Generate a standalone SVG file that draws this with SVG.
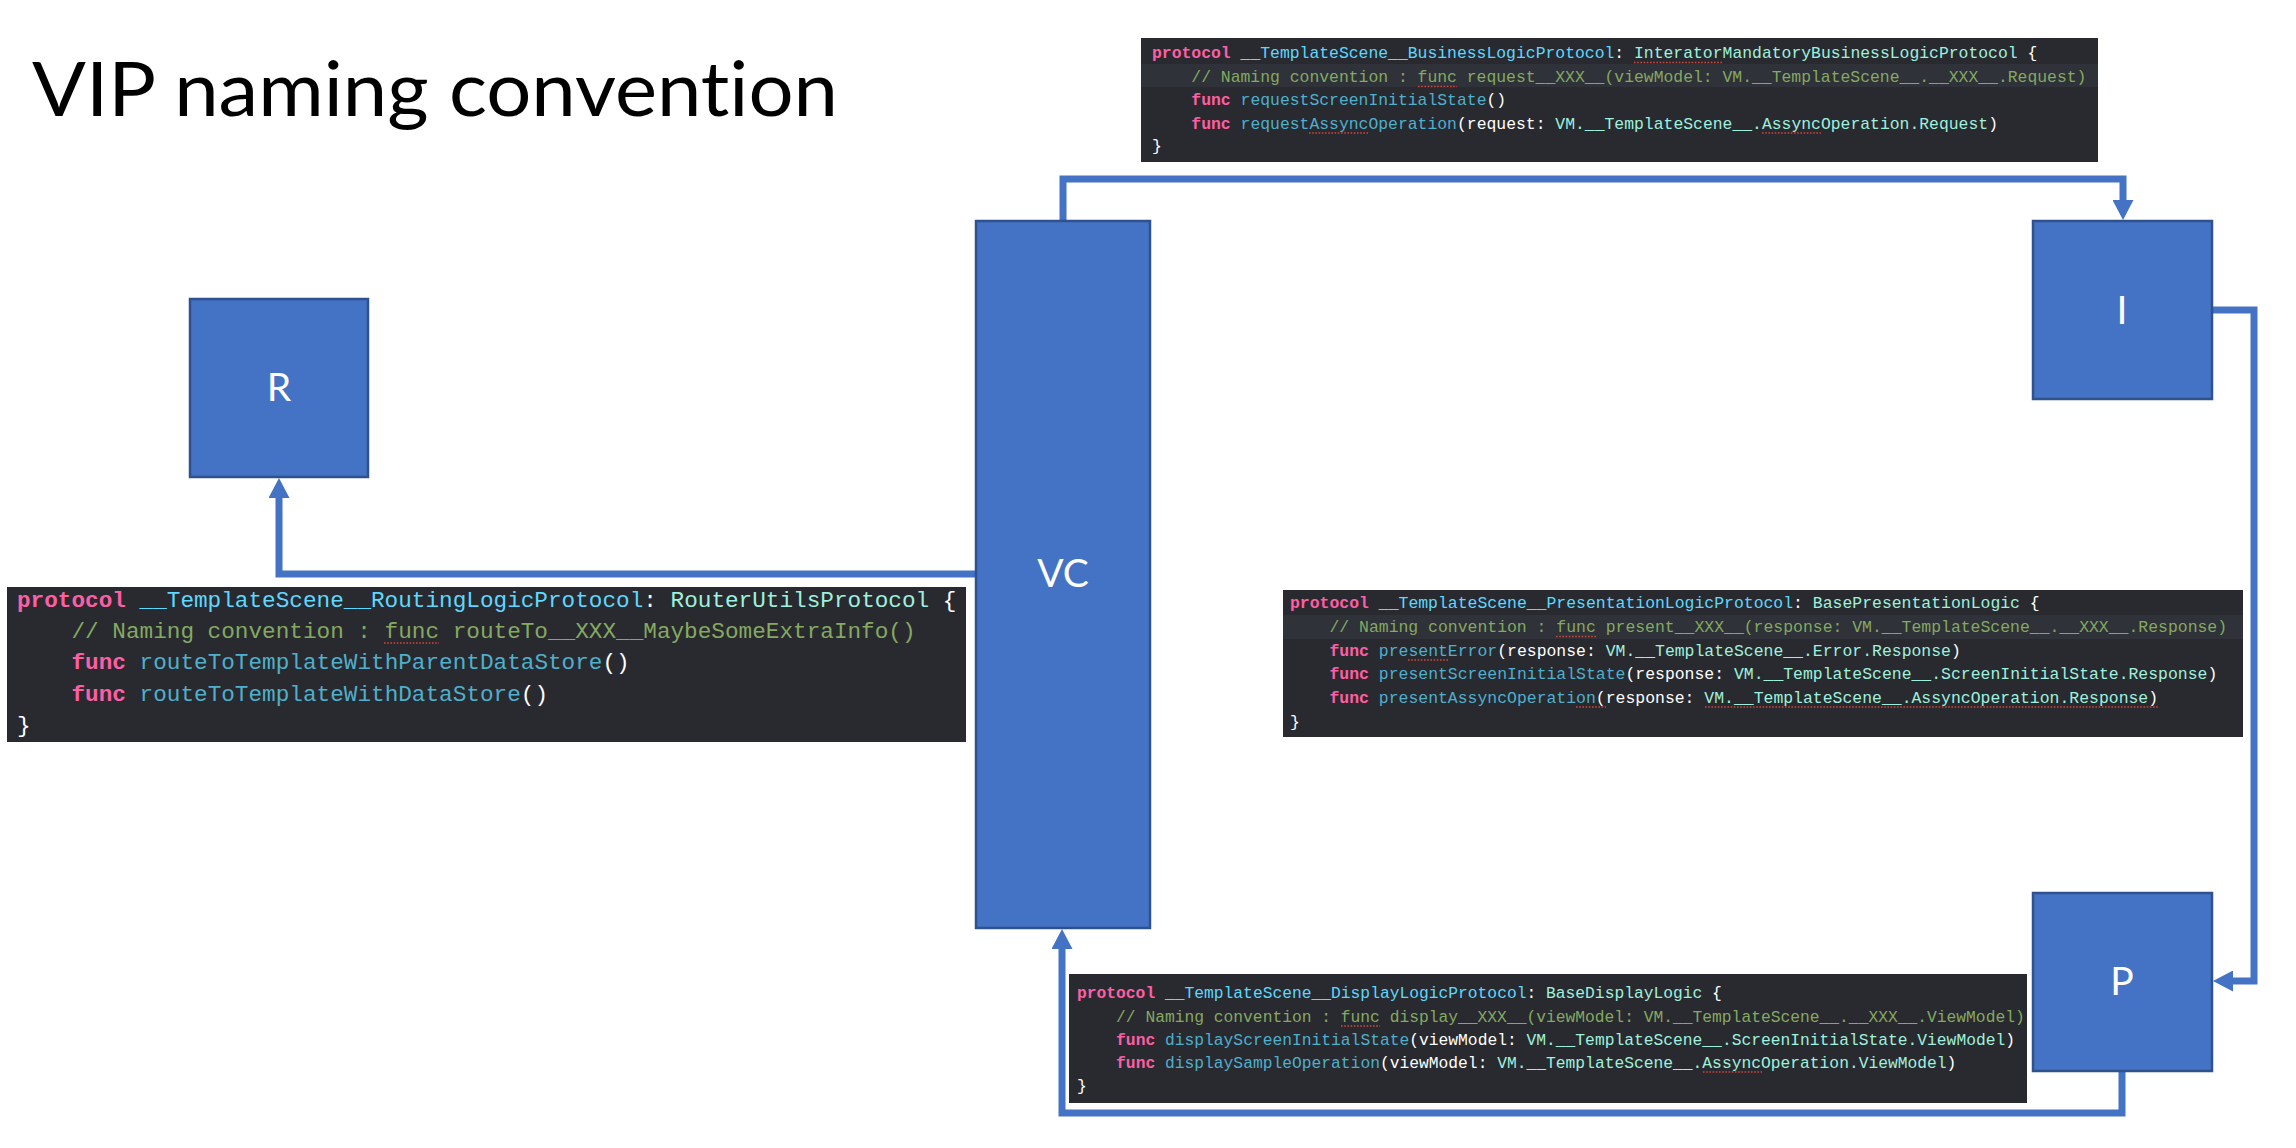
<svg xmlns="http://www.w3.org/2000/svg" width="2296" height="1148" viewBox="0 0 2296 1148">
  <style>
    .title { font-family: Lato, "Open Sans", "Liberation Sans", sans-serif; font-size: 76px; fill: #000; font-variant-ligatures: none; }
    .node rect { fill: #4472c4; stroke: #2f528f; stroke-width: 2.5; }
    .node text { font-family: Lato, "Open Sans", "Liberation Sans", sans-serif; font-size: 39px; fill: #fff; text-anchor: middle; }
    .wire { fill: none; stroke: #4472c4; stroke-width: 7; stroke-linejoin: miter; }
    .code rect.bg { fill: #292a30; }
    .code rect.hl { fill: #2f3239; }
    .code text { font-family: "Liberation Mono", "DejaVu Sans Mono", monospace; fill: #ffffff; white-space: pre; }
    .code .kw { fill: #fc5fa3; font-weight: bold; }
    .code .decl { fill: #5dd8ff; }
    .code .ty { fill: #9ef1dd; }
    .code .fn { fill: #4eb0cc; }
    .code .cm { fill: #84a960; }
    .spell { stroke: #d0453a; stroke-width: 1.6; stroke-dasharray: 1.6 1.6; fill: none; }
  </style>
  <defs>
    <marker id="arrow" viewBox="0 0 20 21" refX="1" refY="10.5" markerUnits="userSpaceOnUse" markerWidth="20" markerHeight="21" orient="auto">
      <path d="M0,0 L20,10.5 L0,21 Z" fill="#4472c4"/>
    </marker>
  </defs>

  <rect width="2296" height="1148" fill="#ffffff"/>

  <text class="title" x="32" y="116" textLength="806" lengthAdjust="spacingAndGlyphs">VIP naming convention</text>

  <!-- connectors -->
  <g id="connectors">
    <path class="wire" d="M1063,221 V179 H2123 V201" marker-end="url(#arrow)"/>
    <path class="wire" d="M2212,310 H2254 V981 H2232" marker-end="url(#arrow)"/>
    <path class="wire" d="M2122,1071 V1113 H1062 V948" marker-end="url(#arrow)"/>
    <path class="wire" d="M976,574 H279 V497" marker-end="url(#arrow)"/>
  </g>

  <!-- nodes -->
  <g id="node-R" class="node">
    <rect x="190" y="299" width="178" height="178"/>
    <text x="279" y="401">R</text>
  </g>
  <g id="node-VC" class="node">
    <rect x="976" y="221" width="174" height="707"/>
    <text x="1063" y="587">VC</text>
  </g>
  <g id="node-I" class="node">
    <rect x="2033" y="221" width="179" height="178"/>
    <text x="2122" y="324">I</text>
  </g>
  <g id="node-P" class="node">
    <rect x="2033" y="893" width="179" height="178"/>
    <text x="2122" y="995">P</text>
  </g>

  <!-- interactor business logic protocol -->
  <g id="code-business" class="code" xml:space="preserve">
    <rect class="bg" x="1141" y="38" width="957" height="124"/>
    <rect class="hl" x="1141" y="64" width="957" height="23"/>
    <text x="1152" y="58" font-size="16.4"><tspan class="kw">protocol</tspan> <tspan class="decl">__TemplateScene__BusinessLogicProtocol</tspan>: <tspan class="ty">InteratorMandatoryBusinessLogicProtocol</tspan> {</text>
    <text x="1152" y="82" font-size="16.4" class="cm">    // Naming convention : func request__XXX__(viewModel: VM.__TemplateScene__.__XXX__.Request)</text>
    <text x="1152" y="105" font-size="16.4">    <tspan class="kw">func</tspan> <tspan class="fn">requestScreenInitialState</tspan>()</text>
    <text x="1152" y="129" font-size="16.4">    <tspan class="kw">func</tspan> <tspan class="fn">requestAssyncOperation</tspan>(request: <tspan class="ty">VM.__TemplateScene__.AssyncOperation.Request</tspan>)</text>
    <text x="1152" y="151" font-size="16.4">}</text>
    <path class="spell" d="M1634,62.5 H1723 M1418,86.5 H1457 M1309,133 H1368 M1762,133 H1821"/>
  </g>

  <!-- router routing logic protocol -->
  <g id="code-routing" class="code" xml:space="preserve">
    <rect class="bg" x="7" y="587" width="959" height="155"/>
    <text x="17" y="607" font-size="22.7"><tspan class="kw">protocol</tspan> <tspan class="decl">__TemplateScene__RoutingLogicProtocol</tspan>: <tspan class="ty">RouterUtilsProtocol</tspan> {</text>
    <text x="17" y="638" font-size="22.7" class="cm">    // Naming convention : func routeTo__XXX__MaybeSomeExtraInfo()</text>
    <text x="17" y="669" font-size="22.7">    <tspan class="kw">func</tspan> <tspan class="fn">routeToTemplateWithParentDataStore</tspan>()</text>
    <text x="17" y="701" font-size="22.7">    <tspan class="kw">func</tspan> <tspan class="fn">routeToTemplateWithDataStore</tspan>()</text>
    <text x="17" y="732" font-size="22.7">}</text>
    <path class="spell" d="M384,643 H439"/>
  </g>

  <!-- presenter presentation logic protocol -->
  <g id="code-presentation" class="code" xml:space="preserve">
    <rect class="bg" x="1283" y="590" width="960" height="147"/>
    <rect class="hl" x="1283" y="615" width="960" height="24"/>
    <text x="1290" y="608" font-size="16.45"><tspan class="kw">protocol</tspan> <tspan class="decl">__TemplateScene__PresentationLogicProtocol</tspan>: <tspan class="ty">BasePresentationLogic</tspan> {</text>
    <text x="1290" y="632" font-size="16.45" class="cm">    // Naming convention : func present__XXX__(response: VM.__TemplateScene__.__XXX__.Response)</text>
    <text x="1290" y="656" font-size="16.45">    <tspan class="kw">func</tspan> <tspan class="fn">presentError</tspan>(response: <tspan class="ty">VM.__TemplateScene__.Error.Response</tspan>)</text>
    <text x="1290" y="679" font-size="16.45">    <tspan class="kw">func</tspan> <tspan class="fn">presentScreenInitialState</tspan>(response: <tspan class="ty">VM.__TemplateScene__.ScreenInitialState.Response</tspan>)</text>
    <text x="1290" y="703" font-size="16.45">    <tspan class="kw">func</tspan> <tspan class="fn">presentAssyncOperation</tspan>(response: <tspan class="ty">VM.__TemplateScene__.AssyncOperation.Response</tspan>)</text>
    <text x="1290" y="727" font-size="16.45">}</text>
    <path class="spell" d="M1556,636.5 H1596 M1408,660 H1448 M1576,707 H1606 M1705,707 H2158"/>
  </g>

  <!-- view controller display logic protocol -->
  <g id="code-display" class="code" xml:space="preserve">
    <rect class="bg" x="1069" y="974" width="958" height="129"/>
    <text x="1077" y="998" font-size="16.3"><tspan class="kw">protocol</tspan> <tspan class="decl">__TemplateScene__DisplayLogicProtocol</tspan>: <tspan class="ty">BaseDisplayLogic</tspan> {</text>
    <text x="1077" y="1022" font-size="16.3" class="cm">    // Naming convention : func display__XXX__(viewModel: VM.__TemplateScene__.__XXX__.ViewModel)</text>
    <text x="1077" y="1045" font-size="16.3">    <tspan class="kw">func</tspan> <tspan class="fn">displayScreenInitialState</tspan>(viewModel: <tspan class="ty">VM.__TemplateScene__.ScreenInitialState.ViewModel</tspan>)</text>
    <text x="1077" y="1068" font-size="16.3">    <tspan class="kw">func</tspan> <tspan class="fn">displaySampleOperation</tspan>(viewModel: <tspan class="ty">VM.__TemplateScene__.AssyncOperation.ViewModel</tspan>)</text>
    <text x="1077" y="1091" font-size="16.3">}</text>
    <path class="spell" d="M1341,1026 H1380 M1703,1072 H1762"/>
  </g>
</svg>
